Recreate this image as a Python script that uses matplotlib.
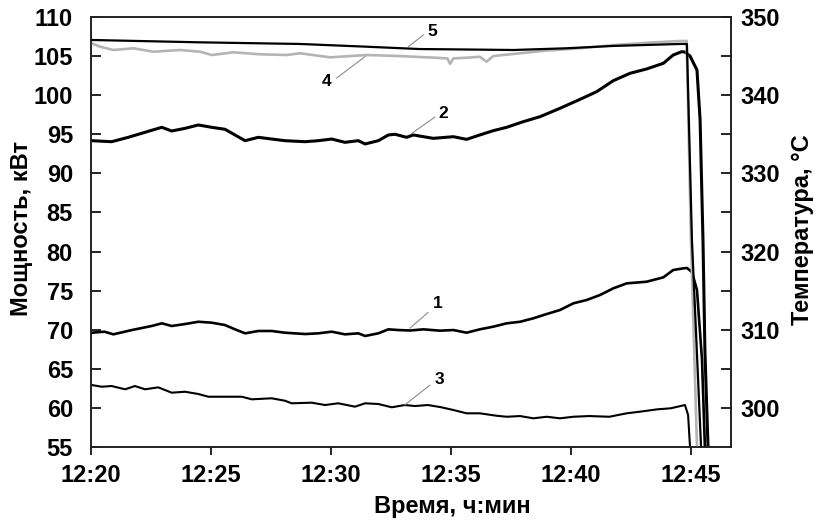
import matplotlib
matplotlib.use("Agg")
import matplotlib.pyplot as plt
import numpy as np

FONT = ["Liberation Sans Narrow", "Liberation Sans", "DejaVu Sans"]
plt.rcParams["font.family"] = FONT
plt.rcParams["font.weight"] = "bold"

# time in minutes after 12:20, power in kW (curves 1-3), temperature in C (curves 4-5)
t1 = [0.03, 0.56, 0.93, 1.7, 2.53, 2.95, 3.36, 3.92, 4.47, 5.03, 5.58, 6.0, 6.42, 6.97, 7.53,
      8.08, 8.92, 9.47, 10.03, 10.58, 11.14, 11.42, 11.97, 12.39, 12.81, 13.29, 13.85, 14.54,
      15.1, 15.65, 16.2, 16.76, 17.32, 17.88, 18.43, 18.99, 19.54, 20.1, 20.65, 21.21, 21.76,
      22.32, 23.15, 23.85, 24.26, 24.68, 24.83, 25.04, 25.25, 25.46, 25.58, 25.63]
p1 = [69.62, 69.75, 69.41, 69.96, 70.48, 70.82, 70.48, 70.73, 71.02, 70.9, 70.6, 70.05, 69.54,
      69.84, 69.84, 69.62, 69.45, 69.54, 69.75, 69.41, 69.54, 69.2, 69.54, 70.05, 69.96, 69.9,
      70.05, 69.88, 69.96, 69.62, 70.05, 70.39, 70.82, 71.02, 71.46, 72.01, 72.52, 73.38, 73.8,
      74.44, 75.29, 75.93, 76.14, 76.7, 77.64, 77.85, 77.9, 77.38, 75.08, 66.13, 55.0, 50.8]

t2 = [0.03, 0.86, 1.55, 2.67, 2.95, 3.36, 3.92, 4.47, 5.03, 5.58, 6.0, 6.42, 6.97, 7.53, 8.08,
      8.92, 9.47, 10.03, 10.58, 11.14, 11.42, 11.97, 12.39, 12.67, 13.15, 13.43, 14.26, 15.1,
      15.65, 16.2, 16.76, 17.32, 18.01, 18.71, 19.54, 20.38, 21.07, 21.76, 22.46, 23.15, 23.85,
      24.26, 24.61, 24.75, 24.96, 25.25, 25.38, 25.5, 25.58, 25.71, 25.75]
p2 = [94.18, 94.05, 94.61, 95.64, 95.89, 95.42, 95.76, 96.19, 95.89, 95.64, 94.91, 94.18, 94.61,
      94.39, 94.18, 94.05, 94.18, 94.39, 93.97, 94.18, 93.76, 94.18, 94.91, 95.0, 94.61, 94.91,
      94.48, 94.69, 94.35, 94.91, 95.46, 95.89, 96.61, 97.25, 98.32, 99.47, 100.45, 101.85,
      102.8, 103.35, 104.08, 105.14, 105.56, 105.52, 105.0, 103.22, 96.83, 81.48, 67.41, 55.0, 50.8]

t3 = [0.03, 0.44, 0.86, 1.42, 1.83, 2.25, 2.8, 3.36, 3.92, 4.47, 4.89, 5.58, 6.28, 6.7, 7.53,
      8.08, 8.36, 9.2, 9.75, 10.3, 11.0, 11.42, 11.97, 12.53, 13.08, 13.5, 14.04, 14.6, 15.1,
      15.65, 16.2, 16.9, 17.32, 17.88, 18.43, 18.99, 19.54, 20.1, 20.76, 21.6, 22.32, 22.88,
      23.6, 24.15, 24.75, 24.88, 24.96, 25.0]
p3 = [62.93, 62.71, 62.8, 62.38, 62.8, 62.38, 62.63, 61.95, 62.07, 61.78, 61.43, 61.43, 61.43,
      61.1, 61.23, 60.92, 60.59, 60.67, 60.37, 60.59, 60.16, 60.59, 60.5, 60.08, 60.37, 60.24,
      60.37, 60.08, 59.73, 59.31, 59.31, 59.0, 58.87, 58.96, 58.67, 58.87, 58.67, 58.87, 58.96,
      58.87, 59.31, 59.52, 59.82, 59.95, 60.37, 59.1, 55.0, 52.0]

t4 = [0.03, 0.38, 0.93, 1.76, 2.6, 3.71, 4.54, 5.03, 5.93, 7.04, 8.15, 8.71, 9.96, 11.49, 12.88,
      13.57, 14.3, 14.85, 14.96, 15.1, 15.7, 16.2, 16.48, 16.76, 17.87, 18.95, 20.38, 21.76,
      23.15, 24.54, 24.82, 25.0, 25.25, 25.31]
T4 = [346.64, 346.2, 345.78, 346.0, 345.56, 345.78, 345.56, 345.14, 345.48, 345.23, 345.14,
      345.36, 344.84, 345.14, 345.0, 344.9, 344.8, 344.7, 344.0, 344.7, 344.8, 344.92, 344.28,
      345.0, 345.36, 345.7, 346.0, 346.4, 346.7, 346.93, 346.93, 321.48, 295.0, 290.8]

t5 = [0.03, 4.54, 8.71, 11.49, 13.7, 14.82, 17.6, 19.82, 21.76, 24.54, 24.83, 25.04, 25.42, 25.5]
T5 = [347.06, 346.76, 346.55, 346.2, 345.9, 345.87, 345.78, 346.0, 346.3, 346.55, 346.55,
      321.48, 295.0, 292.0]

# curve number labels: text position and leader line (left-axis units)
lab_names = ["1", "2", "3", "4", "5"]
lab_xy = [(14.46, 73.4), (14.68, 97.6), (14.51, 63.6), (9.82, 101.7), (14.2, 108.1)]
lead_start = [(14.04, 72.2), (14.33, 97.2), (14.12, 62.9), (10.24, 102.2), (13.85, 107.7)]
lead_end = [(13.29, 70.2), (13.36, 95.1), (13.08, 60.4), (11.49, 105.1), (13.22, 106.2)]

xticks = [0, 5, 10, 15, 20, 25]
xlabels = ["12:20", "12:25", "12:30", "12:35", "12:40", "12:45"]

fig = plt.figure(figsize=(8.15, 5.23), dpi=100)
fig.set_facecolor("white")
ax = fig.add_axes([0.1117, 0.1453, 0.7853, 0.8222])
ax2 = ax.twinx()

ax.plot(t1, p1, color="black", lw=1.9, zorder=3)
ax.plot(t2, p2, color="black", lw=2.2, zorder=3)
ax.plot(t3, p3, color="black", lw=1.5, zorder=3)
ax2.plot(t4, T4, color="#b4b4b4", lw=1.9, zorder=2)
ax2.plot(t5, T5, color="black", lw=1.6, zorder=3)

for name, xy, s, e in zip(lab_names, lab_xy, lead_start, lead_end):
    ax.plot([s[0], e[0]], [s[1], e[1]], color="#8c8c8c", lw=0.8, zorder=4)
    ax.text(xy[0], xy[1], name, ha="center", va="center", fontsize=12.5,
            fontweight="bold", family=FONT)

ax.set_xlim(0, 26.67)
ax.set_ylim(55, 110)
ax2.set_ylim(295, 350)

ax.set_xticks(xticks)
ax.set_xticklabels(xlabels)
ax.set_yticks(range(55, 111, 5))
ax2.set_yticks(range(300, 351, 10))
ax2.set_yticks(range(305, 350, 10), minor=True)

ax.tick_params(axis="x", direction="out", length=6, width=1.2, pad=6, labelsize=17)
ax.tick_params(axis="y", direction="in", length=7, width=1.2, pad=13, labelsize=17)
ax2.tick_params(axis="y", which="both", direction="in", length=7, width=1.2, pad=7, labelsize=17)
for lab in ax.get_xticklabels() + ax.get_yticklabels() + ax2.get_yticklabels():
    lab.set_fontweight("bold")

for a in (ax, ax2):
    for sp in a.spines.values():
        sp.set_linewidth(1.2)
        sp.set_color("#222222")

fig.text(22 / 815, 1 - 229 / 523, "Мощность, кВт", rotation=90, ha="center", va="center",
         fontsize=17, fontweight="bold")
fig.text(803 / 815, 1 - 230 / 523, "Температура, °С", rotation=90, ha="center", va="center",
         fontsize=17, fontweight="bold")
fig.text(452 / 815, 1 - 507 / 523, "Время, ч:мин", ha="center", va="center",
         fontsize=17, fontweight="bold")

plt.savefig("out.png", dpi=100, facecolor="white")
plt.close()
